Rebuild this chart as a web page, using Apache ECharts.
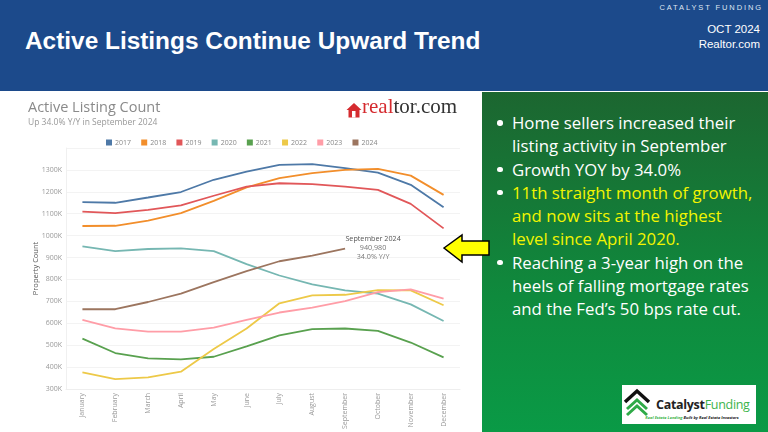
<!DOCTYPE html>
<html>
<head>
<meta charset="utf-8">
<script src="https://cdn.jsdelivr.net/npm/echarts@6/dist/echarts.min.js"></script>
<style>
  html, body { margin:0; padding:0; width:768px; height:432px; overflow:hidden; background:#ffffff; }
  #header { position:absolute; left:0; top:0; width:768px; height:91px; background:#1c4a8b; }
  #title { position:absolute; left:25px; top:27px; font-family:"Liberation Sans", Arial, sans-serif; font-weight:bold; font-size:24.4px; color:#fff; white-space:nowrap; }
  #brand { position:absolute; right:5px; top:3px; font-family:"Liberation Sans", Arial, sans-serif; font-size:7.5px; letter-spacing:1.9px; color:#dfe6f2; }
  #date { position:absolute; right:8px; top:22px; font-family:"Liberation Sans", Arial, sans-serif; font-size:11.5px; color:#fff; text-align:right; line-height:15px; }
  #panel { position:absolute; left:482px; top:92px; width:286px; height:340px; background:linear-gradient(to bottom, #1c6630 0%, #0f8a3d 60%, #0a9a46 100%); }
  #panel ul { margin:0; padding:0; list-style:none; position:absolute; left:15px; top:19px; width:275px; font-family:"Open Sans", sans-serif; font-size:16.8px; line-height:23.3px; color:#fff; white-space:nowrap; }
  #panel li { position:relative; padding-left:15px; }
  #panel li:before { content:""; position:absolute; left:0; top:9px; width:5.5px; height:5.5px; border-radius:50%; background:#fff; }
  #panel li.y { color:#f3f500; }
  #logo { position:absolute; left:622px; top:385px; width:134px; height:39px; background:#fff; }
  #chart { position:absolute; left:0; top:0; width:768px; height:432px; }
</style>
</head>
<body>
<div id="header">
  <div id="title">Active Listings Continue Upward Trend</div>
  <div id="brand">CATALYST FUNDING</div>
  <div id="date">OCT 2024<br>Realtor.com</div>
</div>
<div id="panel">
  <ul>
    <li>Home sellers increased their<br>listing activity in September</li>
    <li>Growth YOY by 34.0%</li>
    <li class="y">11th straight month of growth,<br>and now sits at the highest<br>level since April 2020.</li>
    <li>Reaching a 3-year high on the<br>heels of falling mortgage rates<br>and the Fed’s 50 bps rate cut.</li>
  </ul>
</div>
<div id="logo">
  <svg width="134" height="39" viewBox="0 0 134 39">
    <polyline points="3,17 15,6 27,17" fill="none" stroke="#111" stroke-width="3.5"/>
    <polyline points="5,24 15,15 25,24" fill="none" stroke="#2faa48" stroke-width="3"/>
    <polyline points="5,30 15,21 25,30" fill="none" stroke="#2faa48" stroke-width="3"/>
    <text x="34" y="24" font-family="Open Sans, sans-serif" font-size="12.5" font-weight="bold" fill="#222" letter-spacing="-0.3">Catalyst<tspan font-weight="normal" fill="#3cb44b">Funding</tspan></text>
    <text x="70" y="34" text-anchor="middle" font-family="Open Sans, sans-serif" font-size="4" font-style="italic" font-weight="bold" fill="#3cb44b">Real Estate Lending <tspan fill="#222">Built by Real Estate Investors</tspan></text>
  </svg>
</div>
<div id="chart"></div>
<script>
const months = ['January','February','March','April','May','June','July','August','September','October','November','December'];
const years = ['2017','2018','2019','2020','2021','2022','2023','2024'];
const y2017 = [1153000,1150000,1174000,1199000,1255000,1292000,1323000,1326000,1308000,1288000,1232000,1129000];
const y2018 = [1044000,1045000,1068000,1103000,1159000,1220000,1262000,1285000,1300000,1305000,1274000,1186000];
const y2019 = [1110000,1103000,1118000,1138000,1182000,1224000,1239000,1235000,1224000,1209000,1145000,1033000];
const y2020 = [951000,929000,939000,942000,929000,870000,818000,777000,750000,735000,686000,610000];
const y2021 = [530000,464000,440000,435000,447000,494000,545000,573000,576000,565000,512000,444000];
const y2022 = [376000,345000,353000,379000,482000,576000,691000,727000,730000,751000,750000,682000];
const y2023 = [615000,577000,562000,562000,580000,615000,649000,671000,701000,742000,755000,712000];
const y2024 = [664000,664000,697000,735000,788000,838000,883000,909000,940980,null,null,null];
const seriesValues = [y2017,y2018,y2019,y2020,y2021,y2022,y2023,y2024];
const colors = ['#4e79a7','#f28e2b','#e15759','#76b7b2','#59a14f','#edc948','#ff9da7','#9c755f'];
const annotationLines = ['September 2024','940,980','34.0% Y/Y'];

const chart = echarts.init(document.getElementById('chart'), null, {renderer:'canvas'});
const FONT = '"Open Sans", sans-serif';

const series = years.map((y, i) => {
  const s = {
    name: y, type: 'line', data: seriesValues[i], showSymbol: false, symbol: 'none',
    lineStyle: { width: 1.8, color: colors[i] }, itemStyle: { color: colors[i] },
    emphasis: { disabled: true }, z: 2
  };
  if (y === '2024') {
    s.markPoint = {
      symbol: 'circle', symbolSize: 0,
      data: [{ coord: [months[8], y2024[8]] }],
      label: {
        show: true, position: 'inside', offset: [28, -1],
        formatter: '{a|' + annotationLines[0] + '}\n{b|' + annotationLines[1] + '}\n{b|' + annotationLines[2] + '}',
        rich: {
          a: { fontFamily: FONT, fontSize: 7.2, color: '#555', lineHeight: 9, align: 'center' },
          b: { fontFamily: FONT, fontSize: 7.2, color: '#777', lineHeight: 9, align: 'center' }
        }
      }
    };
  }
  return s;
});

chart.setOption({
  backgroundColor: 'transparent',
  animation: false,
  color: colors,
  title: {
    text: 'Active Listing Count',
    subtext: 'Up 34.0% Y/Y in September 2024',
    left: 23, top: 95, itemGap: 3,
    textStyle: { fontFamily: FONT, fontSize: 14.5, fontWeight: 'normal', color: '#8a8a8a' },
    subtextStyle: { fontFamily: FONT, fontSize: 8.5, color: '#999' }
  },
  legend: {
    data: years, left: 101, top: 134, icon: 'rect', itemWidth: 6, itemHeight: 6, itemGap: 10.2,
    textStyle: { fontFamily: FONT, fontSize: 7, color: '#888', padding: [0,0,0,-2] }
  },
  grid: { left: 66, right: 308, top: 148, bottom: 42, containLabel: false },
  xAxis: {
    type: 'category', data: months, boundaryGap: true,
    axisLine: { show: true, lineStyle: { color: '#eeeeee' } },
    axisTick: { show: false },
    axisLabel: { rotate: 90, fontFamily: FONT, fontSize: 7, color: '#999', margin: 4, interval: 0 }
  },
  yAxis: {
    type: 'value', min: 300000, max: 1400000, interval: 100000,
    name: 'Property Count', nameLocation: 'middle', nameGap: 26, nameMoveOverlap: false,
    nameTextStyle: { fontFamily: FONT, fontSize: 7.5, color: '#555' },
    axisLine: { show: true, lineStyle: { color: '#f0f0f0' } },
    axisTick: { show: false },
    splitLine: { lineStyle: { color: '#f3f3f3', width: 1 } },
    axisLabel: { fontFamily: FONT, fontSize: 7, color: '#999', margin: 4, showMaxLabel: false,
      formatter: v => (v / 1000) + 'K' }
  },
  graphic: [
    { type: 'polygon', shape: { points: [[354,103],[361.5,110],[359.5,110],[359.5,117.5],[348.5,117.5],[348.5,110],[346.5,110]] }, style: { fill: '#d52b2f' } },
    { type: 'rect', shape: { x: 352, y: 111, width: 3.5, height: 6.5 }, style: { fill: '#fff' } },
    { type: 'text', left: 362, top: 97,
      style: { text: '{a|real}{b|tor.com}', rich: {
        a: { fontFamily: '"Liberation Serif", serif', fontSize: 21, fill: '#d52b2f' },
        b: { fontFamily: '"Liberation Serif", serif', fontSize: 21, fill: '#333' } } } },
    { type: 'polygon', z: 100,
      shape: { points: [[444,248],[462,235],[462,241],[489,241],[489,255],[462,255],[462,262]] },
      style: { fill: '#ffff00', stroke: '#000', lineWidth: 1.5 } }
  ],
  series: series
});
</script>
</body>
</html>
